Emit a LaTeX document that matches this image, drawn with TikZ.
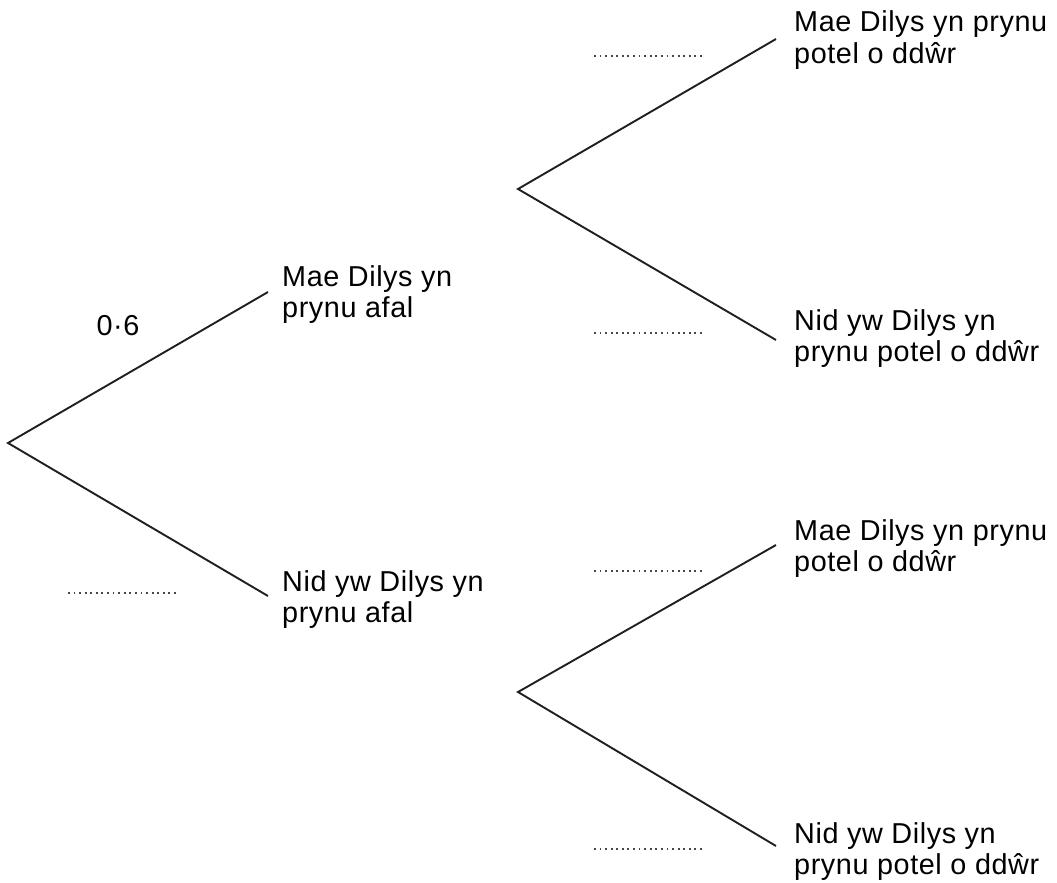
\documentclass[tikz,border=0pt]{standalone}
\usepackage{fontspec}
\setmainfont{Liberation Sans}[LetterSpace=2]
\begin{document}
\begin{tikzpicture}[x=1pt,y=-1pt,
  branch/.style={line width=1.9pt,color=black!88},
  blank/.style={line width=1.8pt,color=black!72,dash pattern=on 1.8pt off 3.78pt},
  lbl/.style={anchor=base west,inner sep=0pt,font=\fontsize{28.8}{31.5}\selectfont}]
\useasboundingbox (0,0) rectangle (1057,883);
% branch points
\coordinate (root) at (8,443);
\coordinate (a) at (268,292);
\coordinate (b) at (268,596);
\coordinate (av) at (518,189);
\coordinate (bv) at (518,692);
\coordinate (aa) at (776,39);
\coordinate (ab) at (776,340);
\coordinate (ba) at (776,545);
\coordinate (bb) at (776,846);
% branches
\draw[branch] (a) -- (root) -- (b);
\draw[branch] (aa) -- (av) -- (ab);
\draw[branch] (ba) -- (bv) -- (bb);
% labels
\node[lbl] (la) at (282,286) {\begin{tabular}[t]{@{}l@{}}Mae Dilys yn\\prynu afal\end{tabular}};
\node[lbl] (lb) at (282,591) {\begin{tabular}[t]{@{}l@{}}Nid yw Dilys yn\\prynu afal\end{tabular}};
\node[lbl] (laa) at (794,32) {\begin{tabular}[t]{@{}l@{}}Mae Dilys yn prynu\\potel o ddŵr\end{tabular}};
\node[lbl] (lab) at (794,330) {\begin{tabular}[t]{@{}l@{}}Nid yw Dilys yn\\prynu potel o ddŵr\end{tabular}};
\node[lbl] (lba) at (794,540) {\begin{tabular}[t]{@{}l@{}}Mae Dilys yn prynu\\potel o ddŵr\end{tabular}};
\node[lbl] (lbb) at (794,843) {\begin{tabular}[t]{@{}l@{}}Nid yw Dilys yn\\prynu potel o ddŵr\end{tabular}};
\node[lbl,anchor=base] (p) at (118,335) {0·6};
% blanks
\coordinate (d1s) at (68,593); \coordinate (d1e) at (177,593);
\coordinate (d2s) at (594,56); \coordinate (d2e) at (703,56);
\coordinate (d3s) at (594,333); \coordinate (d3e) at (703,333);
\coordinate (d4s) at (594,571); \coordinate (d4e) at (703,571);
\coordinate (d5s) at (594,849); \coordinate (d5e) at (703,849);
\draw[blank] (d1s) -- (d1e);
\draw[blank] (d2s) -- (d2e);
\draw[blank] (d3s) -- (d3e);
\draw[blank] (d4s) -- (d4e);
\draw[blank] (d5s) -- (d5e);
\end{tikzpicture}
\end{document}
